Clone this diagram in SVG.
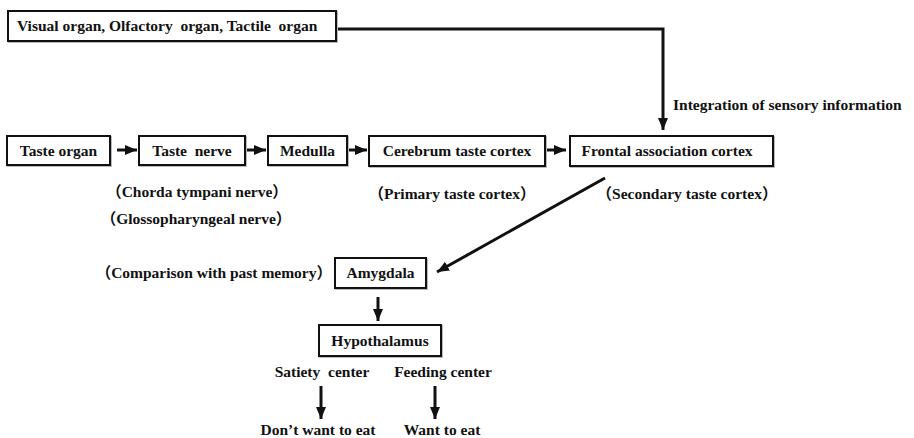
<svg xmlns="http://www.w3.org/2000/svg" width="914" height="438" viewBox="0 0 914 438">
<defs>
<style>
text{font-family:"Liberation Serif","Noto Sans CJK SC",serif;font-weight:bold;font-size:15.5px;fill:#111;white-space:pre}
.box{fill:#fff;stroke:#111;stroke-width:2}
.sh{fill:none;stroke:#bbb;stroke-width:2}
.c{fill:none;stroke:#111;stroke-width:3}
.m{text-anchor:middle}
</style>
<marker id="ah" markerUnits="userSpaceOnUse" markerWidth="12" markerHeight="12" viewBox="0 0 12 12" refX="12" refY="6" orient="auto">
<path d="M0,1 L12,6 L0,11 Z" fill="#111"/>
</marker>
</defs>
<rect width="914" height="438" fill="#fff"/>
<g id="connectors">
<path class="c" d="M337,29 H663 V130" marker-end="url(#ah)"/>
<line class="c" x1="117" y1="150" x2="137" y2="150" marker-end="url(#ah)"/>
<line class="c" x1="246" y1="150" x2="266" y2="150" marker-end="url(#ah)"/>
<line class="c" x1="348" y1="150" x2="367" y2="150" marker-end="url(#ah)"/>
<line class="c" x1="546" y1="150" x2="566" y2="150" marker-end="url(#ah)"/>
<line class="c" x1="605" y1="178" x2="437" y2="272" marker-end="url(#ah)"/>
<line class="c" x1="378" y1="297" x2="378" y2="321" marker-end="url(#ah)"/>
<line class="c" x1="321" y1="386" x2="321" y2="419" marker-end="url(#ah)"/>
<line class="c" x1="435" y1="386" x2="435" y2="419" marker-end="url(#ah)"/>
</g>
<g id="sensory">
<rect class="sh" x="9" y="12" width="328" height="30"/>
<rect class="box" x="8" y="11" width="328" height="30"/>
<text x="17" y="31">Visual organ, Olfactory  organ, Tactile  organ</text>
</g>
<text x="673" y="110">Integration of sensory information</text>
<g id="taste-organ">
<rect class="sh" x="8" y="137" width="103" height="29"/>
<rect class="box" x="7" y="136" width="103" height="29"/>
<text class="m" x="58.5" y="155.5">Taste organ</text>
</g>
<g id="taste-nerve">
<rect class="sh" x="140" y="137" width="106" height="29"/>
<rect class="box" x="139" y="136" width="106" height="29"/>
<text class="m" x="192" y="155.5">Taste  nerve</text>
</g>
<text class="m" x="197" y="197">（Chorda tympani nerve）</text>
<text class="m" x="196" y="224">（Glossopharyngeal nerve）</text>
<g id="medulla">
<rect class="sh" x="269" y="137" width="79" height="29"/>
<rect class="box" x="268" y="136" width="79" height="29"/>
<text class="m" x="307.5" y="155.5">Medulla</text>
</g>
<g id="cerebrum">
<rect class="sh" x="370" y="137" width="176" height="30"/>
<rect class="box" x="369" y="136" width="176" height="30"/>
<text class="m" x="457" y="155.5">Cerebrum taste cortex</text>
</g>
<text class="m" x="452" y="199">（Primary taste cortex）</text>
<g id="frontal">
<rect class="sh" x="571" y="137" width="203" height="30"/>
<rect class="box" x="570" y="136" width="203" height="30"/>
<text class="m" x="667" y="155.5">Frontal association cortex</text>
</g>
<text class="m" x="687" y="199">（Secondary taste cortex）</text>
<text x="332" y="278" text-anchor="end">（Comparison with past memory）</text>
<g id="amygdala">
<rect class="sh" x="336" y="259" width="91" height="30"/>
<rect class="box" x="335" y="258" width="91" height="30"/>
<text class="m" x="380.5" y="278">Amygdala</text>
</g>
<g id="hypothalamus">
<rect class="sh" x="320" y="326" width="122" height="31"/>
<rect class="box" x="319" y="325" width="122" height="31"/>
<text class="m" x="380" y="346">Hypothalamus</text>
</g>
<text class="m" x="322" y="377">Satiety  center</text>
<text class="m" x="443" y="377">Feeding center</text>
<text class="m" x="318" y="435">Don’t want to eat</text>
<text class="m" x="442" y="435">Want to eat</text>
</svg>
